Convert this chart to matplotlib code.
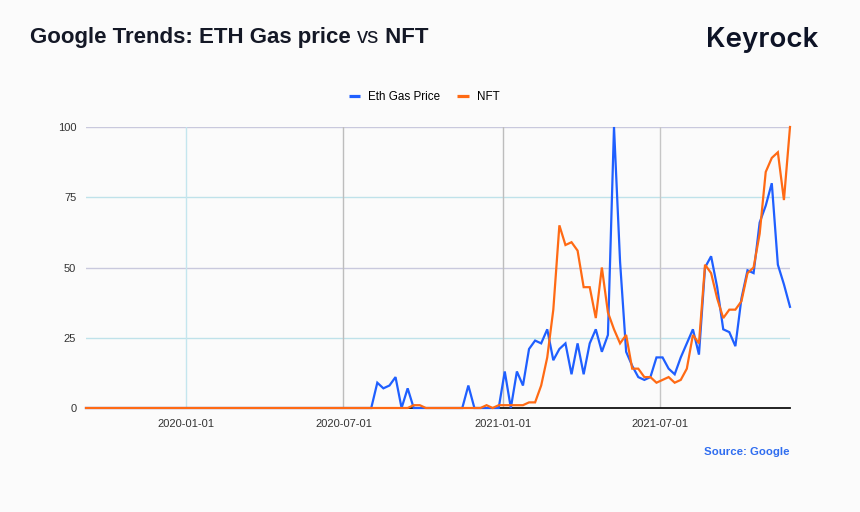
import matplotlib
matplotlib.use("Agg")
import matplotlib.pyplot as plt
import pandas as pd
from matplotlib.lines import Line2D

# weekly Google Trends interest (0-100), first week starting 2019-09-08
start_date = "2019-09-08"

eth_gas = [
    0, 0, 0, 0, 0, 0, 0, 0, 0, 0, 0, 0, 0, 0, 0, 0, 0, 0, 0, 0,
    0, 0, 0, 0, 0, 0, 0, 0, 0, 0, 0, 0, 0, 0, 0, 0, 0, 0, 0, 0,
    0, 0, 0, 0, 0, 0, 0, 0, 9, 7, 8, 11, 0, 7, 0, 0, 0, 0, 0, 0,
    0, 0, 0, 8, 0, 0, 0, 0, 0, 13, 0, 13, 8, 21, 24, 23, 28, 17, 21, 23,
    12, 23, 12, 23, 28, 20, 26, 100, 52, 20, 15, 11, 10, 11, 18, 18, 14, 12, 18, 23,
    28, 19, 50, 54, 43, 28, 27, 22, 39, 49, 48, 66, 72, 80, 51, 44, 36,
]

nft = [
    0, 0, 0, 0, 0, 0, 0, 0, 0, 0, 0, 0, 0, 0, 0, 0, 0, 0, 0, 0,
    0, 0, 0, 0, 0, 0, 0, 0, 0, 0, 0, 0, 0, 0, 0, 0, 0, 0, 0, 0,
    0, 0, 0, 0, 0, 0, 0, 0, 0, 0, 0, 0, 0, 0, 1, 1, 0, 0, 0, 0,
    0, 0, 0, 0, 0, 0, 1, 0, 1, 1, 1, 1, 1, 2, 2, 8, 18, 35, 65, 58,
    59, 56, 43, 43, 32, 50, 34, 28, 23, 26, 14, 14, 11, 11, 9, 10, 11, 9, 10, 14,
    26, 23, 51, 48, 39, 32, 35, 35, 38, 48, 50, 62, 84, 89, 91, 74, 100,
]

x_ticks = ["2020-01-01", "2020-07-01", "2021-01-01", "2021-07-01"]
y_ticks = [0, 25, 50, 75, 100]

blue = "#1f5fff"
orange = "#ff6a14"
bg = "#fbfbfb"

dates = pd.date_range(start_date, periods=len(eth_gas), freq="7D")

fig = plt.figure(figsize=(8.6, 5.12), dpi=100, facecolor=bg)
ax = fig.add_axes([86 / 860, 104 / 512, 704 / 860, 281 / 512], facecolor=bg)

# grid lines, drawn by hand to get the mixed colours of the original
for v, c in zip([25, 50, 75, 100], ["#bfe2ea", "#c9c9dd", "#bfe2ea", "#c9c9dd"]):
    ax.axhline(v, color=c, lw=1, zorder=1)
for d, c in zip(x_ticks, ["#c4e6ee", "#bdbdbd", "#bdbdbd", "#c6c6c6"]):
    ax.axvline(pd.Timestamp(d), color=c, lw=1, zorder=1)

ax.plot(dates, eth_gas, color=blue, lw=1.6, zorder=3, clip_on=False,
        solid_joinstyle="miter")
ax.plot(dates, nft, color=orange, lw=1.6, zorder=4, clip_on=False,
        solid_joinstyle="miter")

ax.set_xlim(dates[0], dates[-1])
ax.set_ylim(0, 100)
ax.set_xticks([pd.Timestamp(d) for d in x_ticks])
ax.set_xticklabels(x_ticks)
ax.set_yticks(y_ticks)
ax.tick_params(length=0, labelsize=8, labelcolor="#333333", pad=8)
ax.tick_params(axis="y", pad=7)
for lab in ax.get_xticklabels() + ax.get_yticklabels():
    lab.set_fontfamily("Liberation Sans")

for s in ["top", "right", "left"]:
    ax.spines[s].set_visible(False)
ax.spines["bottom"].set_color("#111111")
ax.spines["bottom"].set_linewidth(1.3)
ax.spines["bottom"].set_zorder(2)

handles = [Line2D([], [], color=blue, lw=2.3, solid_capstyle="butt"),
           Line2D([], [], color=orange, lw=2.3, solid_capstyle="butt")]
fig.legend(handles, ["Eth Gas Price", "NFT"], loc="center",
           bbox_to_anchor=(424 / 860, 1 - 97 / 512), ncol=2, frameon=False,
           handlelength=1.0, handletextpad=0.7, columnspacing=1.4,
           prop={"family": "Liberation Sans", "size": 8.4})

# title in three pieces: bold / regular "vs" / bold
fig.canvas.draw()
r = fig.canvas.get_renderer()
tx = 30 / 860
ty = 1 - 43 / 512
for part, w in [("Google Trends: ETH Gas price ", "bold"), ("vs", "normal"), (" NFT", "bold")]:
    t = fig.text(tx, ty, part, fontsize=16, fontweight=w, family="Liberation Sans",
                 color="#141826", va="baseline", ha="left")
    bb = t.get_window_extent(renderer=r)
    tx = bb.x1 / fig.bbox.width

fig.text(818 / 860, 1 - 47 / 512, "Keyrock", fontsize=20, fontweight="semibold",
         family="Inter", color="#0d1326", ha="right", va="baseline")
fig.text(789 / 860, 1 - 452 / 512, "Source: Google", fontsize=8.2, fontweight="bold",
         family="Liberation Sans", color="#2f6df0", ha="right", va="center")

fig.savefig("out.png", dpi=100, facecolor=bg)
